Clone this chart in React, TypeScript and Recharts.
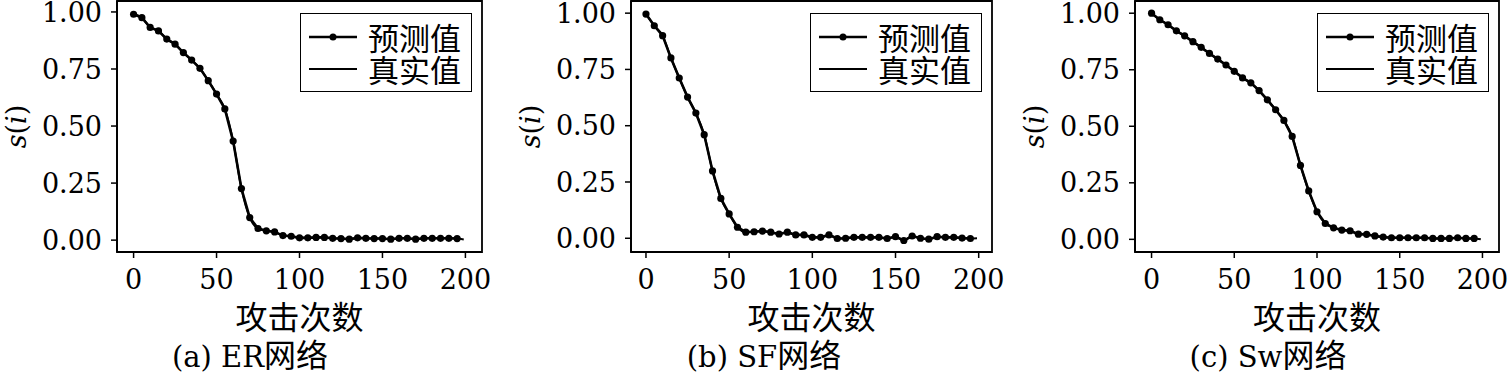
import { Legend, Line, LineChart, ReferenceArea, XAxis, YAxis } from "recharts";

const SERIF = '"DejaVu Serif", serif';
const CJK = '"Noto Sans CJK SC", sans-serif';

// attack counts where predictions were sampled, and the true curve's steps
const attackSteps = [
  0, 5, 10, 15, 20, 25, 30, 35, 40, 45, 50, 55, 60, 65, 70, 75, 80, 85, 90, 95,
  100, 105, 110, 115, 120, 125, 130, 135, 140, 145, 150, 155, 160, 165, 170, 175, 180, 185, 190, 195,
];
const trueSteps = [...attackSteps, 199];

const xTicks = [0, 50, 100, 150, 200];
const yTicks = [0, 0.25, 0.5, 0.75, 1];
const legendLabels = ["预测值", "真实值"];
const xTitle = "攻击次数";

// (a) ER
const erPred = [
  0.99, 0.975, 0.932, 0.917, 0.881, 0.859, 0.822, 0.789, 0.753, 0.699, 0.64, 0.575, 0.434, 0.226, 0.099, 0.051,
  0.041, 0.036, 0.02, 0.017, 0.01, 0.01, 0.012, 0.012, 0.008, 0.007, 0.004, 0.01, 0.008, 0.007, 0.007, 0.004,
  0.008, 0.008, 0.004, 0.008, 0.008, 0.008, 0.008, 0.007,
];
const erTrue = [
  0.99, 0.975, 0.932, 0.917, 0.881, 0.859, 0.822, 0.789, 0.753, 0.699, 0.64, 0.575, 0.434, 0.226, 0.099, 0.051,
  0.041, 0.036, 0.02, 0.017, 0.01, 0.01, 0.012, 0.012, 0.008, 0.007, 0.004, 0.01, 0.008, 0.007, 0.007, 0.004,
  0.008, 0.008, 0.004, 0.008, 0.008, 0.008, 0.008, 0.007, 0.003,
];

// (b) SF
const sfPred = [
  0.996, 0.944, 0.9, 0.801, 0.712, 0.627, 0.556, 0.46, 0.299, 0.177, 0.108, 0.049, 0.027, 0.029, 0.032, 0.027,
  0.019, 0.027, 0.015, 0.015, 0.004, 0.004, 0.015, -0.001, 0.0, 0.004, 0.004, 0.004, 0.004, -0.001, 0.007, -0.01,
  0.01, 0.0, -0.004, 0.007, 0.004, 0.004, 0.001, -0.001,
];
const sfTrue = [
  0.996, 0.944, 0.9, 0.801, 0.712, 0.627, 0.556, 0.46, 0.299, 0.177, 0.108, 0.049, 0.027, 0.029, 0.032, 0.027,
  0.019, 0.027, 0.015, 0.015, 0.004, 0.004, 0.015, -0.001, 0.0, 0.004, 0.004, 0.004, 0.004, -0.001, 0.007, -0.01,
  0.01, 0.0, -0.004, 0.007, 0.004, 0.004, 0.001, -0.001, 0.0,
];

// (c) Sw
const swPred = [
  1.0, 0.971, 0.949, 0.922, 0.9, 0.874, 0.849, 0.822, 0.797, 0.771, 0.743, 0.714, 0.692, 0.658, 0.617, 0.573,
  0.526, 0.455, 0.327, 0.214, 0.122, 0.07, 0.051, 0.041, 0.038, 0.023, 0.022, 0.015, 0.01, 0.007, 0.007, 0.007,
  0.007, 0.007, 0.004, 0.004, 0.004, 0.007, 0.004, 0.004,
];
const swTrue = [
  1.0, 0.971, 0.949, 0.922, 0.9, 0.874, 0.849, 0.822, 0.797, 0.771, 0.743, 0.714, 0.692, 0.658, 0.617, 0.573,
  0.526, 0.455, 0.327, 0.214, 0.122, 0.07, 0.051, 0.041, 0.038, 0.023, 0.022, 0.015, 0.01, 0.007, 0.007, 0.007,
  0.007, 0.007, 0.004, 0.004, 0.004, 0.007, 0.004, 0.004, 0.0,
];

type Pt = { x: number; y: number };

function toSeries(xs: number[], ys: number[]): Pt[] {
  const n = Math.min(xs.length, ys.length);
  const out: Pt[] = [];
  for (let i = 0; i < n; i++) out.push({ x: xs[i], y: ys[i] });
  return out;
}

const W = 505;
const H = 375;
const PLOT_TOP = 1;
const PLOT_BOTTOM = 252;
const AXIS_W = 1.8;

function YTitle({ viewBox }: any) {
  const cy = viewBox ? viewBox.y + viewBox.height / 2 : 126;
  return (
    <text
      transform={`translate(16,${cy}) rotate(-90)`}
      textAnchor="middle"
      dominantBaseline="central"
      fontFamily={SERIF}
      fontSize={27}
      fill="#000"
    >
      <tspan fontStyle="italic">s</tspan>(<tspan fontStyle="italic">i</tspan>)
    </text>
  );
}

function XTitle({ viewBox }: any) {
  const cx = viewBox ? viewBox.x + viewBox.width / 2 : 300;
  const y = viewBox ? viewBox.y + 63 : 315;
  return (
    <text x={cx} y={y} textAnchor="middle" dominantBaseline="central" fontFamily={CJK} fontSize={32} fill="#000">
      {xTitle}
    </text>
  );
}

function LegendBox() {
  return (
    <div
      style={{
        width: 172,
        height: 79,
        boxSizing: "border-box",
        border: `${AXIS_W}px solid #000`,
        background: "#fff",
        padding: "7px 0 0 8px",
      }}
    >
      {legendLabels.map((name, i) => (
        <div key={name} style={{ display: "flex", alignItems: "center", height: 32, overflow: "visible" }}>
          <svg width={48} height={32} style={{ display: "block", flex: "none" }}>
            <line x1={0} y1={16} x2={48} y2={16} stroke="#000" strokeWidth={i === 0 ? 2.6 : 1.8} />
            {i === 0 && <circle cx={24} cy={16} r={3.5} fill="#000" />}
          </svg>
          <span
            style={{
              display: "block",
              height: 32,
              marginLeft: 11,
              fontFamily: CJK,
              fontSize: 31,
              lineHeight: "32px",
              color: "#000",
              whiteSpace: "nowrap",
            }}
          >
            {name}
          </span>
        </div>
      ))}
    </div>
  );
}

function Panel({
  left,
  plotRight,
  xDomain,
  yDomain,
  pred,
  truth,
  tag,
  net,
}: {
  left: number;
  plotRight: number;
  xDomain: [number, number];
  yDomain: [number, number];
  pred: number[];
  truth: number[];
  tag: string;
  net: string;
}) {
  const predData = toSeries(attackSteps, pred);
  const trueData = toSeries(trueSteps, truth);
  const axisLine = { stroke: "#000", strokeWidth: AXIS_W };
  const tick = { fontFamily: SERIF, fontSize: 27, fill: "#000" };
  return (
    <div style={{ position: "absolute", left, top: 0, width: W, height: H }}>
      <LineChart
        width={W}
        height={H}
        margin={{ top: PLOT_TOP, right: W - plotRight, left: 0, bottom: H - PLOT_BOTTOM - 40 }}
      >
        <XAxis
          type="number"
          dataKey="x"
          domain={xDomain}
          allowDataOverflow
          ticks={xTicks}
          interval={0}
          height={40}
          tickSize={6}
          tickMargin={12}
          axisLine={axisLine}
          tickLine={{ stroke: "#000", strokeWidth: 1.5 }}
          tick={tick}
          label={<XTitle />}
        />
        <YAxis
          type="number"
          dataKey="y"
          domain={yDomain}
          allowDataOverflow
          ticks={yTicks}
          interval={0}
          width={117}
          tickSize={6}
          tickMargin={9}
          tickFormatter={(v: number) => v.toFixed(2)}
          axisLine={axisLine}
          tickLine={{ stroke: "#000", strokeWidth: 1.5 }}
          tick={tick}
          label={<YTitle />}
        />
        {/* plot frame */}
        <ReferenceArea
          x1={xDomain[0]}
          x2={xDomain[1]}
          y1={yDomain[0]}
          y2={yDomain[1]}
          ifOverflow="visible"
          fill="none"
          fillOpacity={0}
          stroke="#000"
          strokeWidth={AXIS_W}
        />
        <Legend
          layout="horizontal"
          verticalAlign="middle"
          align="center"
          content={() => <LegendBox />}
          wrapperStyle={{ left: plotRight - 10 - 172, top: 13, width: 172, height: 79, right: "auto", bottom: "auto" }}
        />
        <Line
          data={trueData}
          dataKey="y"
          name={legendLabels[1]}
          type="monotone"
          stroke="#000"
          strokeWidth={2}
          dot={false}
          activeDot={false}
          isAnimationActive={false}
        />
        <Line
          data={predData}
          dataKey="y"
          name={legendLabels[0]}
          type="linear"
          stroke="#000"
          strokeWidth={2.6}
          dot={{ r: 3.6, fill: "#000", stroke: "#000", strokeWidth: 0 }}
          activeDot={false}
          isAnimationActive={false}
        />
      </LineChart>
      <div
        style={{
          position: "absolute",
          left: 0,
          top: 335,
          width: 500,
          height: 36,
          lineHeight: "36px",
          textAlign: "center",
          color: "#000",
          whiteSpace: "nowrap",
        }}
      >
        <span style={{ fontFamily: SERIF, fontSize: 29 }}>{tag}</span>
        <span style={{ fontFamily: CJK, fontSize: 32 }}>{net}</span>
      </div>
    </div>
  );
}

export default function App() {
  return (
    <div style={{ position: "absolute", left: 0, top: 0, width: 1509, height: 375, background: "#fff", overflow: "hidden" }}>
      <Panel left={0} plotRight={482} xDomain={[-10, 210]} yDomain={[-0.052, 1.048]} pred={erPred} truth={erTrue} tag="(a) ER" net="网络" />
      <Panel left={514} plotRight={478} xDomain={[-9, 208]} yDomain={[-0.061, 1.054]} pred={sfPred} truth={sfTrue} tag="(b) SF" net="网络" />
      <Panel left={1018} plotRight={481} xDomain={[-10, 210]} yDomain={[-0.056, 1.054]} pred={swPred} truth={swTrue} tag="(c) Sw" net="网络" />
    </div>
  );
}
